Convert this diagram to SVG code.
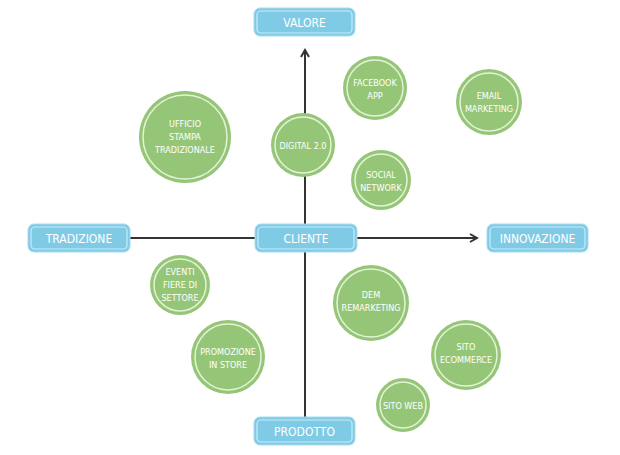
<svg xmlns="http://www.w3.org/2000/svg" width="620" height="455" viewBox="0 0 620 455">
<style>
.b rect.o{fill:#7fcbe6;stroke:#a6dcef;stroke-width:1}
.b rect.i{fill:none;stroke:#c9ecf7;stroke-width:1.2}
.c circle.o{fill:#95c677}
.c circle.i{fill:none;stroke:#e4f2d8;stroke-width:1.5}
text{font-family:"DejaVu Sans Condensed","Liberation Sans Narrow","Liberation Sans",sans-serif;font-stretch:condensed;fill:#fff;text-anchor:middle}
.b text{font-size:12px}
.c text{font-size:9px}
.l{stroke:#333;stroke-width:2;fill:none}
</style>
<defs><marker id="a" markerWidth="10" markerHeight="10" refX="8" refY="5" orient="auto" markerUnits="userSpaceOnUse"><path d="M1,1 L8,5 L1,9" fill="none" stroke="#333" stroke-width="2"/></marker></defs>
<rect width="620" height="455" fill="#fff"/>
<g id="connectors">
<path class="l" d="M305,224 V50" marker-end="url(#a)"/>
<path class="l" d="M305,252 V417"/>
<path class="l" d="M130,238 H255"/>
<path class="l" d="M357,238 H477" marker-end="url(#a)"/>
</g>
<g id="valore" class="b"><rect class="o" x="254" y="8" width="101" height="28" rx="6"/><rect class="i" x="257" y="11" width="95" height="22" rx="4"/><text x="304.500" y="26.500">VALORE</text></g>
<g id="cliente" class="b"><rect class="o" x="255" y="224" width="102" height="28" rx="6"/><rect class="i" x="258" y="227" width="96" height="22" rx="4"/><text x="306" y="242.500">CLIENTE</text></g>
<g id="tradizione" class="b"><rect class="o" x="28" y="224" width="102" height="28" rx="6"/><rect class="i" x="31" y="227" width="96" height="22" rx="4"/><text x="79" y="242.500">TRADIZIONE</text></g>
<g id="innovazione" class="b"><rect class="o" x="487" y="224" width="101" height="28" rx="6"/><rect class="i" x="490" y="227" width="95" height="22" rx="4"/><text x="537.500" y="242.500">INNOVAZIONE</text></g>
<g id="prodotto" class="b"><rect class="o" x="254" y="417" width="101" height="28" rx="6"/><rect class="i" x="257" y="420" width="95" height="22" rx="4"/><text x="304.500" y="435.500">PRODOTTO</text></g>
<g id="ufficio" class="c"><circle class="o" cx="185" cy="137" r="46"/><circle class="i" cx="185" cy="137" r="42"/><text x="185" y="127">UFFICIO</text><text x="185" y="140">STAMPA</text><text x="185" y="153">TRADIZIONALE</text></g>
<g id="digital" class="c"><circle class="o" cx="303" cy="145" r="32"/><circle class="i" cx="303" cy="145" r="28"/><text x="303" y="149">DIGITAL 2.0</text></g>
<g id="facebook" class="c"><circle class="o" cx="375" cy="88" r="32"/><circle class="i" cx="375" cy="88" r="28"/><text x="375" y="86">FACEBOOK</text><text x="375" y="99">APP</text></g>
<g id="email" class="c"><circle class="o" cx="489" cy="102" r="33"/><circle class="i" cx="489" cy="102" r="29"/><text x="489" y="99">EMAIL</text><text x="489" y="112">MARKETING</text></g>
<g id="social" class="c"><circle class="o" cx="381" cy="180" r="30"/><circle class="i" cx="381" cy="180" r="26"/><text x="381" y="178">SOCIAL</text><text x="381" y="191">NETWORK</text></g>
<g id="eventi" class="c"><circle class="o" cx="180" cy="285" r="30"/><circle class="i" cx="180" cy="285" r="26"/><text x="180" y="275">EVENTI</text><text x="180" y="288">FIERE DI</text><text x="180" y="301">SETTORE</text></g>
<g id="dem" class="c"><circle class="o" cx="371" cy="303" r="38"/><circle class="i" cx="371" cy="303" r="34"/><text x="371" y="298">DEM</text><text x="371" y="311">REMARKETING</text></g>
<g id="promozione" class="c"><circle class="o" cx="228" cy="357" r="37"/><circle class="i" cx="228" cy="357" r="33"/><text x="228" y="355">PROMOZIONE</text><text x="228" y="368">IN STORE</text></g>
<g id="ecommerce" class="c"><circle class="o" cx="466" cy="355" r="35"/><circle class="i" cx="466" cy="355" r="31"/><text x="466" y="350">SITO</text><text x="466" y="363">ECOMMERCE</text></g>
<g id="sitoweb" class="c"><circle class="o" cx="403" cy="405" r="27"/><circle class="i" cx="403" cy="405" r="23"/><text x="403" y="409">SITO WEB</text></g>
</svg>
